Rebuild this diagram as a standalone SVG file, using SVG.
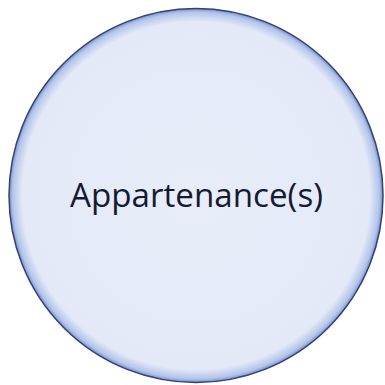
<svg xmlns="http://www.w3.org/2000/svg" width="385" height="385" viewBox="0 0 385 385">
<defs>
<radialGradient id="g" cx="0.5" cy="0.5" r="0.5">
<stop offset="0" stop-color="#e8edf9"/>
<stop offset="0.93" stop-color="#e3e9f7"/>
<stop offset="0.98" stop-color="#b4c4ea"/>
<stop offset="1" stop-color="#7890d0"/>
</radialGradient>
<style>
.lbl{font-family:"Open Sans","Liberation Sans",sans-serif;font-size:33px;fill:#151a33}
</style>
</defs>
<rect width="385" height="385" fill="#ffffff"/>
<g id="node-appartenance">
<circle cx="196" cy="195.5" r="187" fill="url(#g)" stroke="#35426e" stroke-width="1.5"/>
<text class="lbl" x="196.5" y="207" text-anchor="middle" textLength="253" lengthAdjust="spacingAndGlyphs">Appartenance(s)</text>
</g>
<g id="connectors"/>
</svg>
